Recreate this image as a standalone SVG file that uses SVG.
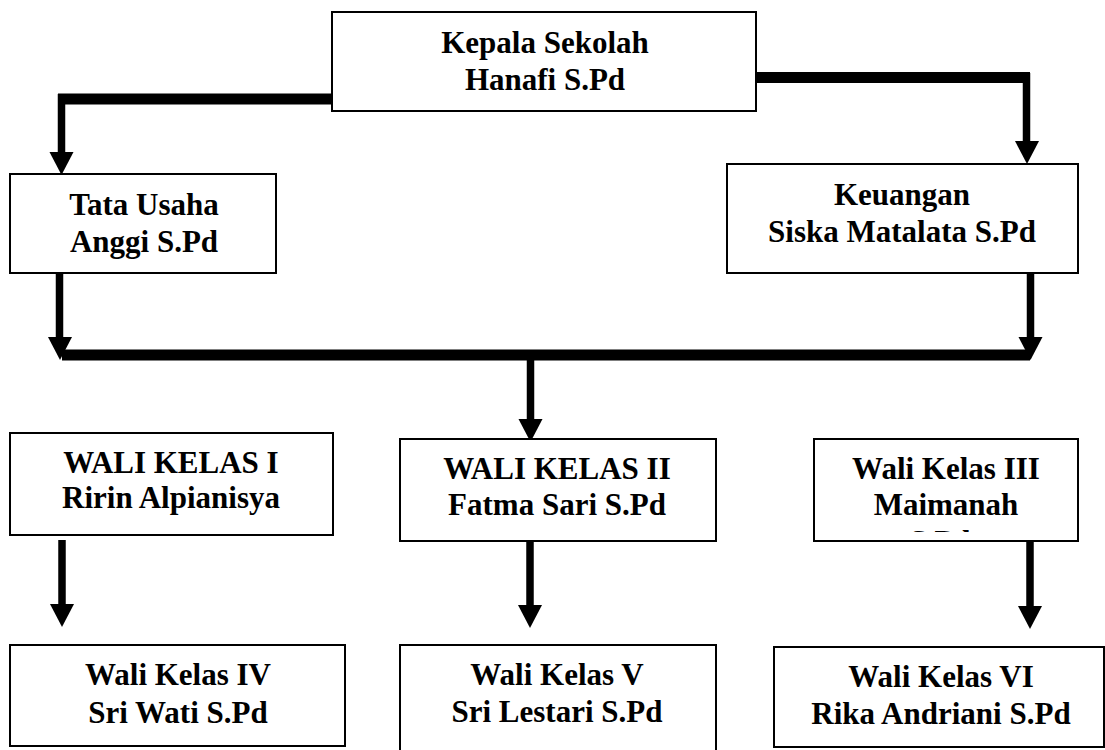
<svg xmlns="http://www.w3.org/2000/svg" xmlns:xlink="http://www.w3.org/1999/xlink" width="1105" height="750" viewBox="0 0 1105 750">
<style>
.box{fill:#fff;stroke:#000;stroke-width:2}
.t{font-family:"Liberation Serif","Times New Roman",serif;font-weight:bold;font-size:31px;text-anchor:middle;fill:#000}
.h{stroke:#000;stroke-width:11;fill:none}
.v{stroke:#000;stroke-width:7.5;fill:none}
</style>
<defs>
<polygon id="ah" points="-12,-23 12,-23 0,0" fill="#000"/>
<clipPath id="c3"><rect x="815" y="440" width="262" height="92"/></clipPath>
</defs>
<rect width="1105" height="750" fill="#fff"/>
<g id="connectors">
<line class="h" x1="58" y1="99" x2="333" y2="99"/>
<line class="v" x1="61.5" y1="94" x2="61.5" y2="155"/>
<use xlink:href="#ah" x="61.5" y="175"/>
<line class="h" x1="755" y1="77.5" x2="1030" y2="77.5"/>
<line class="v" x1="1026.5" y1="73" x2="1026.5" y2="143"/>
<use xlink:href="#ah" x="1027" y="164"/>
<line class="v" x1="59.5" y1="273" x2="59.5" y2="340"/>
<use xlink:href="#ah" x="60" y="360"/>
<line class="v" x1="1030.5" y1="273" x2="1030.5" y2="340"/>
<use xlink:href="#ah" x="1030.5" y="360"/>
<line class="h" x1="62" y1="355" x2="1030" y2="355"/>
<line class="v" x1="530.5" y1="355" x2="530.5" y2="421"/>
<use xlink:href="#ah" x="530.5" y="442"/>
<line class="v" x1="62" y1="540" x2="62" y2="606"/>
<use xlink:href="#ah" x="62" y="627"/>
<line class="v" x1="530" y1="541" x2="530" y2="607"/>
<use xlink:href="#ah" x="530" y="628"/>
<line class="v" x1="1030" y1="541" x2="1030" y2="608"/>
<use xlink:href="#ah" x="1030" y="629"/>
</g>
<g id="kepala">
<rect class="box" x="332" y="12" width="424" height="99"/>
<text class="t" x="545" y="53">Kepala Sekolah</text>
<text class="t" x="545" y="90">Hanafi S.Pd</text>
</g>
<g id="tatausaha">
<rect class="box" x="10" y="174" width="266" height="99"/>
<text class="t" x="144" y="215">Tata Usaha</text>
<text class="t" x="144" y="252">Anggi S.Pd</text>
</g>
<g id="keuangan">
<rect class="box" x="727" y="164" width="351" height="109"/>
<text class="t" x="902" y="205">Keuangan</text>
<text class="t" x="902" y="242">Siska Matalata S.Pd</text>
</g>
<g id="wali1">
<rect class="box" x="10" y="433" width="323" height="102"/>
<text class="t" x="171" y="473">WALI KELAS I</text>
<text class="t" x="171" y="508">Ririn Alpianisya</text>
</g>
<g id="wali2">
<rect class="box" x="400" y="439" width="316" height="102"/>
<text class="t" x="557" y="479">WALI KELAS II</text>
<text class="t" x="557" y="515">Fatma Sari S.Pd</text>
</g>
<g id="wali3">
<rect class="box" x="814" y="439" width="264" height="102"/>
<text class="t" x="946" y="479">Wali Kelas III</text>
<text class="t" x="946" y="515">Maimanah</text>
<text class="t" x="940" y="552" clip-path="url(#c3)">S.Pd</text>
</g>
<g id="wali4">
<rect class="box" x="10" y="645" width="335" height="101"/>
<text class="t" x="178" y="685">Wali Kelas IV</text>
<text class="t" x="178" y="723">Sri Wati S.Pd</text>
</g>
<g id="wali5">
<rect class="box" x="400" y="645" width="316" height="112"/>
<text class="t" x="557" y="685">Wali Kelas V</text>
<text class="t" x="557" y="722">Sri Lestari S.Pd</text>
</g>
<g id="wali6">
<rect class="box" x="774" y="647" width="330" height="100"/>
<text class="t" x="941" y="687">Wali Kelas VI</text>
<text class="t" x="941" y="724">Rika Andriani S.Pd</text>
</g>
</svg>
